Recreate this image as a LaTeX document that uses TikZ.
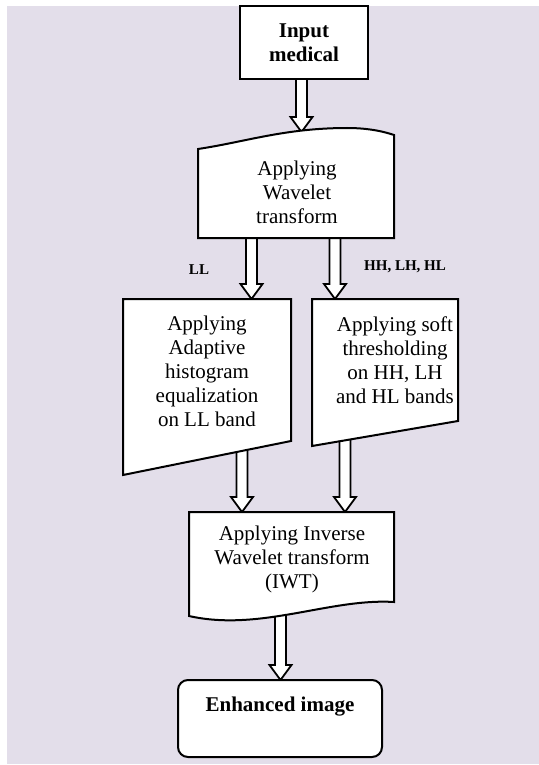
\documentclass[tikz,border=0pt]{standalone}
\usepackage{fontspec}
\setmainfont{Liberation Serif}
\usetikzlibrary{positioning, calc}
\definecolor{bglilac}{HTML}{E3DEEA}

\begin{document}
\begin{tikzpicture}[
	x=0.5pt, y=-0.5pt,
	box/.style={draw, fill=white, line width=1pt, line join=miter},
	txt/.style={align=center, inner sep=0pt, font=\fontsize{10.5}{12}\selectfont},
	boldtxt/.style={txt, font=\fontsize{10.5}{12}\selectfont\bfseries},
	tag/.style={inner sep=0pt, font=\fontsize{7.5}{9}\selectfont\bfseries},
	blockarrow/.style={draw, fill=white, line width=0.9pt, line join=miter,
		to path={let \p1=(\tikztostart), \p2=(\tikztotarget) in
			(\x1-2.75pt,\y1) -- (\x1-2.75pt,\y2+7.5pt) -- (\x1-5.5pt,\y2+7.5pt) -- (\x2,\y2)
			-- (\x1+5.5pt,\y2+7.5pt) -- (\x1+2.75pt,\y2+7.5pt) -- (\x1+2.75pt,\y1) -- cycle}}
	]
	\useasboundingbox (0,0) rectangle (539,765);
	\fill[bglilac] (7,6) rectangle (539,764);

	\coordinate (in-s) at (301.5,72);
	\coordinate (wt-n) at (301.5,132);
	\coordinate (wt-sw) at (251.5,230);
	\coordinate (ahe-n) at (251.5,299);
	\coordinate (wt-se) at (335,230);
	\coordinate (st-n) at (335,299);
	\coordinate (ahe-s) at (242,445);
	\coordinate (iwt-nw) at (242,512);
	\coordinate (st-s) at (345,432);
	\coordinate (iwt-ne) at (345,512);
	\coordinate (iwt-s) at (280.5,600);
	\coordinate (out-n) at (280.5,680);

	\foreach \a/\b in {in-s/wt-n, wt-sw/ahe-n, wt-se/st-n, ahe-s/iwt-nw, st-s/iwt-ne, iwt-s/out-n}
		\draw[blockarrow] (\a) to (\b);

	\node[box, boldtxt, minimum width=64pt, minimum height=36.5pt] (in) at (304,42.5) {Input\\medical};

	\draw[box] (198,238) -- (198,149) .. controls (245,142) and (285,128) .. (347,128)
		.. controls (370,128) and (385,132) .. (394,135) -- (394,238) -- cycle;
	\node[txt] (wt) at (297,192) {Applying\\Wavelet\\transform};

	\draw[box] (123,299) -- (291,299) -- (291,441) -- (123,475) -- cycle;
	\node[txt] (ahe) at (207,371) {Applying\\Adaptive\\histogram\\equalization\\on LL band};

	\draw[box] (312,299) -- (458,299) -- (458,421) -- (312,446) -- cycle;
	\node[txt] (st) at (395,360) {Applying soft\\thresholding\\on HH, LH\\and HL bands};

	\draw[box] (189,512) -- (394,512) -- (394,602) .. controls (330,598) and (260,632) .. (189,616) -- cycle;
	\node[txt] (iwt) at (292,559) {Applying Inverse\\Wavelet transform\\(IWT)};

	\draw[box, rounded corners=5pt] (178,680) rectangle (382,757);
	\node[boldtxt] (out) at (280,707) {Enhanced image};

	\node[tag] (ll) at (199,270) {LL};
	\node[tag] (hh) at (405,267) {HH, LH, HL};
\end{tikzpicture}
\end{document}
